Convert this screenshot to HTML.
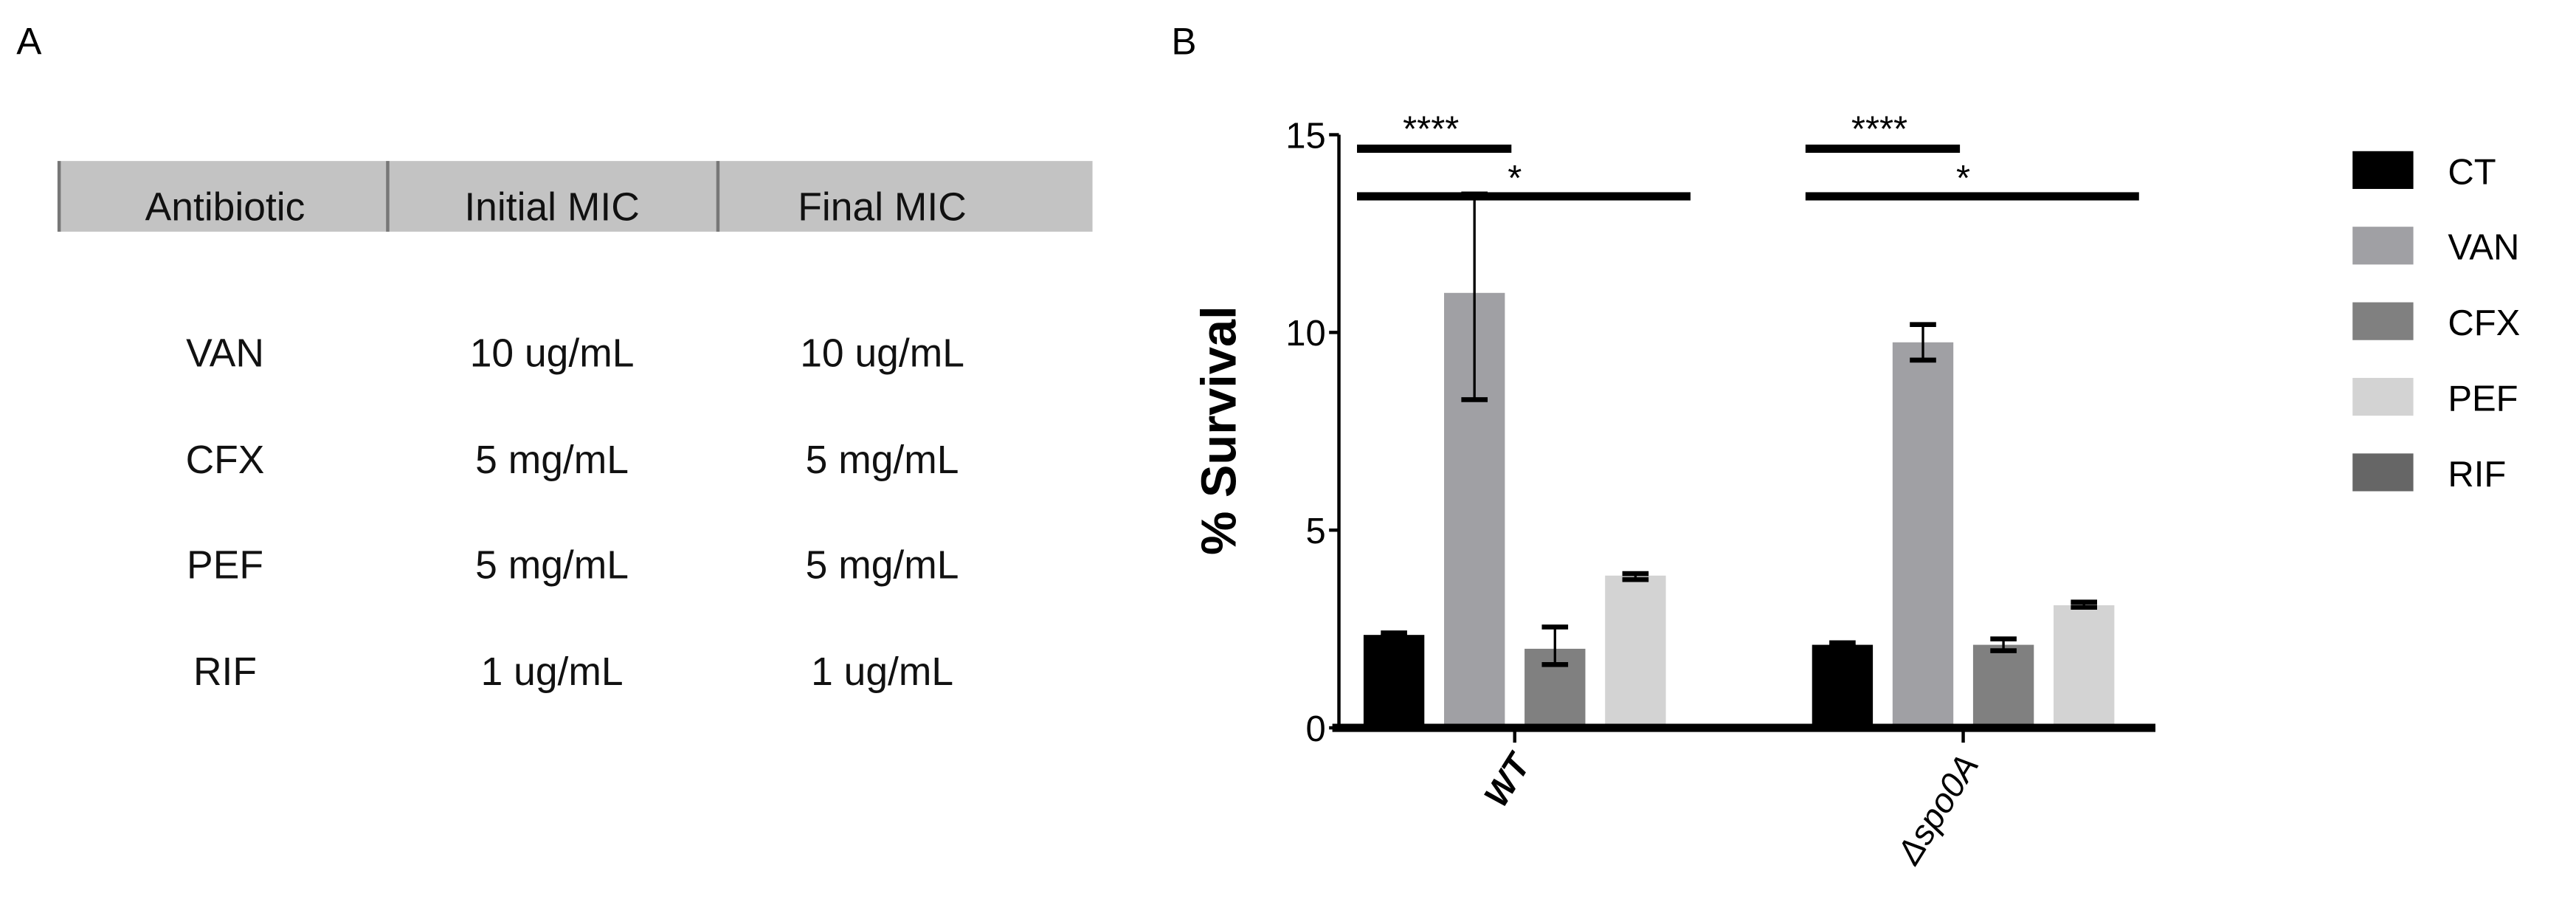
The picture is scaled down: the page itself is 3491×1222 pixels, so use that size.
<!DOCTYPE html>
<html><head><meta charset="utf-8"><style>
html,body{margin:0;padding:0;background:#fff;}
svg{display:block;}
text{font-family:"Liberation Sans",sans-serif;}
</style></head><body>
<svg id="fig" width="3491" height="1222" viewBox="0 0 1568 549" preserveAspectRatio="none" xmlns="http://www.w3.org/2000/svg">
<text x="10" y="33" font-size="23">A</text>
<text x="713" y="33" font-size="23">B</text>
<g>
<rect x="35" y="98" width="630" height="43" fill="#c3c3c3"/>
<line x1="36" y1="98" x2="36" y2="141" stroke="#777" stroke-width="2"/>
<line x1="236" y1="98" x2="236" y2="141" stroke="#777" stroke-width="2"/>
<line x1="437" y1="98" x2="437" y2="141" stroke="#777" stroke-width="2"/>
<g font-size="24" text-anchor="middle" fill="#111">
<text x="137" y="134">Antibiotic</text>
<text x="336" y="134">Initial MIC</text>
<text x="537" y="134">Final MIC</text>
<text x="137" y="223">VAN</text><text x="336" y="223">10 ug/mL</text><text x="537" y="223">10 ug/mL</text>
<text x="137" y="288">CFX</text><text x="336" y="288">5 mg/mL</text><text x="537" y="288">5 mg/mL</text>
<text x="137" y="352">PEF</text><text x="336" y="352">5 mg/mL</text><text x="537" y="352">5 mg/mL</text>
<text x="137" y="417">RIF</text><text x="336" y="417">1 ug/mL</text><text x="537" y="417">1 ug/mL</text>
</g></g>
<g id="chart"></g>
</svg>
<script>
const groups = ["WT", "Δspo0A"];
const series = ["CT", "VAN", "CFX", "PEF", "RIF"];
const wtValues = [2.35, 11.0, 2.0, 3.85];
const wtErrHi = [2.4, 13.5, 2.55, 3.9];
const wtErrLo = [2.3, 8.3, 1.6, 3.75];
const spoValues = [2.1, 9.75, 2.1, 3.1];
const spoErrHi = [2.15, 10.2, 2.25, 3.18];
const spoErrLo = [2.05, 9.3, 1.95, 3.05];
const yTicks = [0, 5, 10, 15];
const colors = ["#000000", "#a0a0a4", "#808080", "#d3d3d3", "#666666"];

const NS = "http://www.w3.org/2000/svg";
const g = document.getElementById("chart");
function mk(tag, attrs, parent) {
  const e = document.createElementNS(NS, tag);
  for (const k in attrs) e.setAttribute(k, attrs[k]);
  (parent || g).appendChild(e);
  return e;
}
const y0 = 443, yTop = 82, axisX = 815;
function y(v) { return y0 - (v / 15) * (y0 - yTop); }
const groupStart = [830, 1103];
const barW = 37, barStep = 49;
function bx(gi, si) { return groupStart[gi] + si * barStep; }

let ax = mk("line", {x1: axisX, y1: yTop, x2: axisX, y2: y0, stroke: "#000", "stroke-width": 2});


yTicks.forEach(t => {
  mk("line", {x1: axisX - 6, y1: y(t), x2: axisX, y2: y(t), stroke: "#000", "stroke-width": 2});
  const tx = mk("text", {x: axisX - 8, y: y(t) + 8, "font-size": 22, "text-anchor": "end"});
  tx.textContent = t;
  
  
});
const yl = mk("text", {x: 0, y: 0, "font-size": 30, "font-weight": "bold", "text-anchor": "middle", transform: "translate(752,262) rotate(-90)"});
yl.textContent = "% Survival";



[[wtValues, wtErrHi, wtErrLo], [spoValues, spoErrHi, spoErrLo]].forEach((d, gi) => {
  d[0].forEach((v, si) => {
    const x = bx(gi, si);
    const r = mk("rect", {x: x, y: y(v), width: barW, height: y0 - y(v), fill: colors[si]});
    
    
    const cx = x + barW / 2;
    const e = mk("g", {stroke: "#000", "stroke-width": 2.5});
    
    
    mk("line", {x1: cx, y1: y(d[1][si]), x2: cx, y2: y(Math.max(d[2][si], 0)), "stroke-width": 1.5}, e);
    mk("line", {x1: cx - 8, y1: y(d[1][si]), x2: cx + 8, y2: y(d[1][si]), "stroke-width": 3}, e);
    mk("line", {x1: cx - 8, y1: y(d[2][si]), x2: cx + 8, y2: y(d[2][si]), "stroke-width": 3}, e);
  });
});
const xa = mk("line", {x1: axisX - 4, y1: y0, x2: 1312, y2: y0, stroke: "#000", "stroke-width": 5});


groups.forEach((name, gi) => {
  const cx = bx(gi, 0) + (3 * barStep + barW) / 2;
  mk("line", {x1: cx, y1: y0, x2: cx, y2: y0 + 9, stroke: "#000", "stroke-width": 2});
  const t = mk("text", {x: 0, y: 0, "font-size": 21, "text-anchor": "end", "font-style": "italic",
    "font-weight": gi ? "normal" : "bold", transform: "translate(" + (cx + 10) + "," + (y0 + 22) + ") rotate(-58)"});
  t.textContent = name;
  
  
});
[0, 1].forEach(gi => {
  const x0 = bx(gi, 0) - 4;
  const l1 = mk("rect", {x: x0, y: 88, width: (bx(gi, 1) + barW + 4) - x0, height: 5, fill: "#000"});
  
  
  const s1 = mk("text", {x: (x0 + bx(gi, 1) + barW) / 2, y: 86, "font-size": 22, "text-anchor": "middle"});
  s1.textContent = "****";
  const l2 = mk("rect", {x: x0, y: 117, width: (bx(gi, 3) + barW + 15) - x0, height: 5, fill: "#000"});
  
  
  const s2 = mk("text", {x: bx(gi, 2) - 6, y: 116, "font-size": 22, "text-anchor": "middle"});
  s2.textContent = "*";
});
series.forEach((s, i) => {
  const yy = 92 + i * 46;
  const r = mk("rect", {x: 1432, y: yy, width: 37, height: 23, fill: colors[i]});
  
  
  const t = mk("text", {x: 1490, y: yy + 20, "font-size": 22});
  t.textContent = s;
  
  
});
</script>
</body></html>
